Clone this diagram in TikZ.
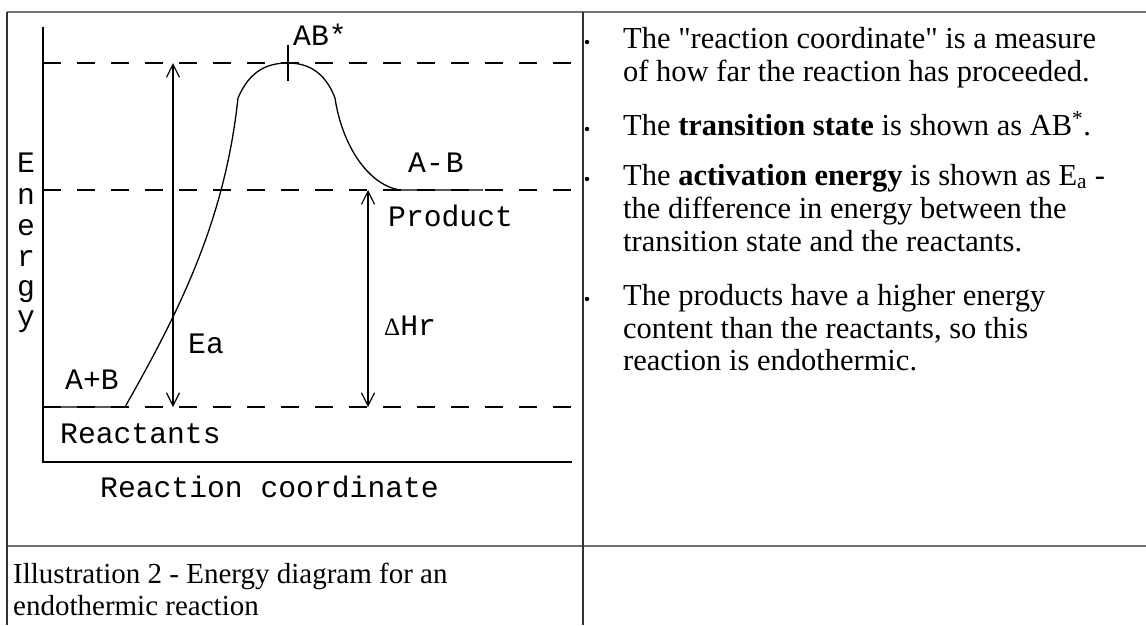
\documentclass[tikz,border=0pt]{standalone}
\usepackage{fontspec}
\setmainfont{Liberation Serif}
\newfontfamily\monof{Liberation Mono}
\usetikzlibrary{arrows.meta}
\begin{document}
\begin{tikzpicture}[x=1pt,y=-1pt,
  txt/.style={font=\fontsize{29}{33}\selectfont, anchor=base west, inner sep=0},
  rtxt/.style={font=\fontsize{30.5}{33}\selectfont, anchor=base west, inner sep=0},
  mono/.style={font=\monof\fontsize{29.7}{31}\selectfont, anchor=base west, inner sep=0},
  bul/.style={fill=black, circle, inner sep=0, minimum size=4.4pt},
  ln/.style={line width=1.3pt},
  dsh/.style={line width=1.3pt, dash pattern=on 18pt off 16pt},
  dbl/.style={line width=1.2pt, {Straight Barb[length=13pt,width=13pt]}-{Straight Barb[length=13pt,width=13pt]}},
  tline/.style={line width=2pt, draw=black!55},
  cline/.style={line width=1.3pt, draw=black!80}]
\useasboundingbox (0,0) rectangle (1146,625);
% table frame
\coordinate (tl) at (7,12);
\coordinate (tr) at (1146,12);
\coordinate (bl) at (7,625);
\coordinate (ml) at (7,546);
\coordinate (mr) at (1146,546);
\coordinate (ct) at (583,12);
\coordinate (cb) at (583,625);
\draw[tline] (tl) -- (tr);
\draw[tline] (ml) -- (mr);
\draw[cline] (tl) -- (bl);
\draw[cline] (ct) -- (cb);
% axes
\coordinate (ytop) at (43,27);
\coordinate (orig) at (43,462);
\coordinate (xend) at (572,462);
\draw[ln] (ytop) -- (orig) -- (xend);
% levels
\coordinate (hiL) at (43,63);  \coordinate (hiR) at (572,63);
\coordinate (mdL) at (43,190); \coordinate (mdR) at (572,190);
\coordinate (loL) at (43,407); \coordinate (loR) at (572,407);
\draw[dsh] (hiL) -- (hiR);
\draw[dsh] (mdL) -- (mdR);
\draw[dsh] (loL) -- (loR);
% energy curve
\coordinate (c0) at (125,407);
\coordinate (c1) at (238,98);
\coordinate (peak) at (288,63);
\coordinate (c2) at (335,98);
\coordinate (c3) at (400,190);
\coordinate (c4) at (483,190);
\draw[ln] (loL) -- (c0) .. controls (180,310) and (225,220) .. (c1)
  .. controls (250,70) and (268,63) .. (peak)
  .. controls (308,63) and (325,72) .. (c2)
  .. controls (342,145) and (368,185) .. (c3) -- (c4);
% tick at transition state
\coordinate (tk1) at (288,45);
\coordinate (tk2) at (288,81);
\draw[ln] (tk1) -- (tk2);
% arrows
\coordinate (eaT) at (173,63);  \coordinate (eaB) at (173,407);
\coordinate (hrT) at (368,190); \coordinate (hrB) at (368,407);
\draw[dbl] (eaB) -- (eaT);
\draw[dbl] (hrB) -- (hrT);
% labels
\node[mono] (ab) at (293,45) {AB*};
\node[mono] (amb) at (408,172) {A-\kern2pt B};
\node[mono] (prod) at (388,226) {Product};
\node[mono] (ea) at (188,353) {Ea};
\node[mono] (dhr) at (384,335) {{\rmfamily\fontsize{25}{25}\selectfont Δ}Hr};
\node[mono] (apb) at (65,389) {A+B};
\node[mono] (react) at (60,443) {Reactants};
\node[mono] (rc) at (100,497) {Reaction coordinate};
\foreach \ch/\yy [count=\i] in {E/172,n/204,e/235,r/266,g/296,y/326}
  \node[mono, anchor=base] (en\i) at (26,\yy) {\ch};
% caption
\node[txt] (cap1) at (13,583) {Illustration 2 - Energy diagram for an};
\node[txt] (cap2) at (13,615) {endothermic reaction};
% bullets
\foreach \yy [count=\i] in {48,135,185,305}
  \node[bul] (b\i) at (587,\yy-6) {};
\node[rtxt] (t1a) at (623,48) {The \textquotedbl reaction coordinate\textquotedbl{} is a measure};
\node[rtxt] (t1b) at (623,81) {of how far the reaction has proceeded.};
\node[rtxt] (t2a) at (623,135) {The \textbf{transition state} is shown as AB\textsuperscript{*}.};
\node[rtxt] (t3a) at (623,185) {The \textbf{activation energy} is shown as E\textsubscript{a} -};
\node[rtxt] (t3b) at (623,218) {the difference in energy between the};
\node[rtxt] (t3c) at (623,251) {transition state and the reactants.};
\node[rtxt] (t4a) at (623,305) {The products have a higher energy};
\node[rtxt] (t4b) at (623,338) {content than the reactants, so this};
\node[rtxt] (t4c) at (623,370) {reaction is endothermic.};
\end{tikzpicture}
\end{document}
